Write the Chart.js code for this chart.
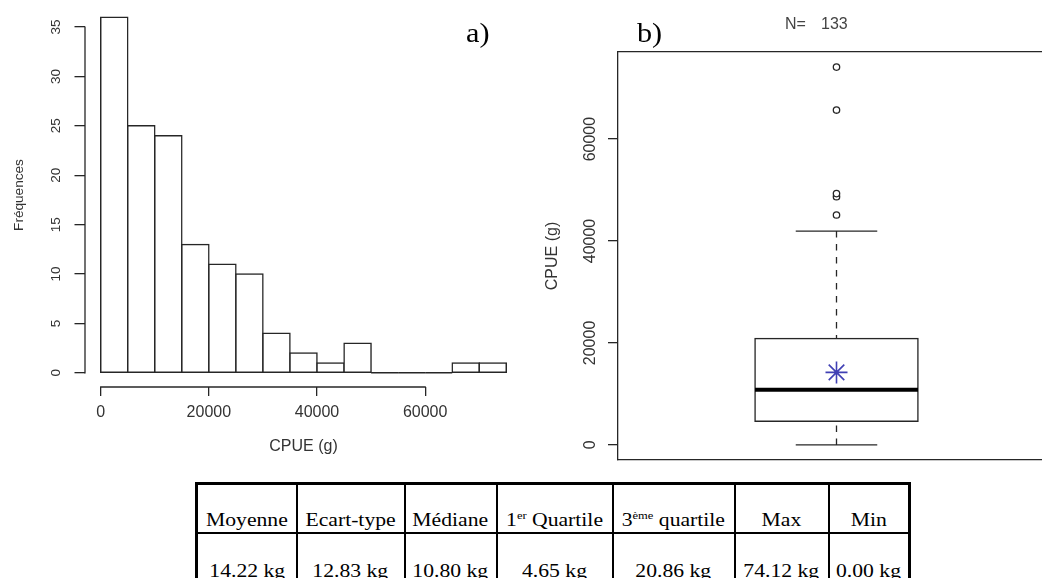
<!DOCTYPE html>
<html lang="fr">
<head>
<meta charset="utf-8">
<title>CPUE</title>
<script src="https://cdn.jsdelivr.net/npm/chart.js@4.4.1/dist/chart.umd.min.js"></script>
<style>
  html, body { margin: 0; padding: 0; background: #fff; }
  #page { position: relative; width: 1042px; height: 578px; overflow: hidden; background: #fff; }
  canvas { position: absolute; top: 0; }
  #histChart { left: 0; }
  #boxChart { left: 540px; }
  .tag { position: absolute; top: 20px; font: 27px/27px "Liberation Serif", "Times New Roman", serif; color: #000;
         transform: scaleX(1.12); transform-origin: left top; }
  .note { position: absolute; top: 15.8px; font: 16px/16px "Liberation Sans", Arial, sans-serif; color: #444; }
  #stats { position: absolute; left: 195px; top: 482px; border-collapse: collapse; table-layout: fixed; width: 713px; }
  #stats td { border: 2px solid #000; padding: 0 0 3px 0; text-align: center; vertical-align: bottom;
              font: 19px/19px "Liberation Serif", "Times New Roman", serif; color: #000; }
  #stats tr:first-child td { border-top-width: 3px; height: 44px; }
  #stats tr:last-child td { height: 46px; }
  #stats td:first-child { border-left-width: 3px; }
  #stats td:last-child { border-right-width: 3px; }
  #stats span { display: inline-block; transform: scaleX(1.14); white-space: nowrap; }
  #stats sup { font-size: 11px; line-height: 0; vertical-align: 7px; }
</style>
</head>
<body>
<div id="page">
  <canvas id="histChart" width="540" height="470"></canvas>
  <canvas id="boxChart" width="520" height="478"></canvas>
  <div class="tag" style="left:466px">a)</div>
  <div class="tag" style="left:637px">b)</div>
  <div class="note" style="left:785px">N=</div>
  <div class="note" id="nValue" style="left:821px"></div>
  <table id="stats">
    <colgroup>
      <col style="width:100px"><col style="width:108px"><col style="width:92px"><col style="width:116px">
      <col style="width:122px"><col style="width:94px"><col style="width:81px">
    </colgroup>
  </table>
</div>
<script>
// histogram of CPUE (g): bin edges and counts
const binEdges = [0, 5000, 10000, 15000, 20000, 25000, 30000, 35000, 40000, 45000, 50000, 55000, 60000, 65000, 70000, 75000];
const binCounts = [36, 25, 24, 13, 11, 10, 4, 2, 1, 3, 0, 0, 0, 1, 1];
const histXTicks = [0, 20000, 40000, 60000];
const histYTicks = [0, 5, 10, 15, 20, 25, 30, 35];

// summary statistics (kg)
const statNames = ['Moyenne', 'Ecart-type', 'Médiane', '1<sup>er</sup> Quartile', '3<sup>ème</sup> quartile', 'Max', 'Min'];
const statKg = [14.22, 12.83, 10.80, 4.65, 20.86, 74.12, 0.00];

// boxplot extras (g)
const boxLabels = ['CPUE'];
const upperWhisker = [41960];
const outliersG = [45100, 48700, 49300, 65700, 74120];
const boxYTicks = [0, 20000, 40000, 60000];
const sampleSize = 133;

const ink = '#262626';
const textCol = '#333';
Chart.defaults.font.family = '"Liberation Sans", Arial, sans-serif';
Chart.defaults.color = textCol;

// R-like axis range: data range widened by 4% on each side
function rRange(lo, hi) {
  const d = (hi - lo) * 0.04;
  return [lo - d, hi + d];
}

// keep the plot area where the layout puts it, whatever the labels need
function noLabelPadding(s) {
  s.paddingTop = 0; s.paddingBottom = 0; s.paddingLeft = 0; s.paddingRight = 0;
}

const [meanKg, sdKg, medianKg, q1Kg, q3Kg, maxKg, minKg] = statKg;
const g = kg => Math.round(kg * 1000);

// axis lines that only run between the first and last tick
const rAxisLines = {
  id: 'rAxisLines',
  afterDraw(chart, args, opts) {
    const ctx = chart.ctx;
    ctx.save();
    ctx.strokeStyle = opts.color;
    ctx.lineWidth = opts.width;
    Object.values(chart.scales).forEach(s => {
      const t = s.ticks;
      if (!t.length) return;
      const a = s.getPixelForValue(t[0].value);
      const b = s.getPixelForValue(t[t.length - 1].value);
      const h = opts.width / 2;
      ctx.beginPath();
      if (s.isHorizontal()) {
        const y = Math.round(s.top);
        ctx.moveTo(a - h, y); ctx.lineTo(b + h, y);
      } else {
        const x = Math.round(s.right);
        ctx.moveTo(x, a + h); ctx.lineTo(x, b - h);
      }
      ctx.stroke();
    });
    ctx.restore();
  }
};

// median, whiskers and caps, drawn right after the box
const boxExtras = {
  id: 'boxExtras',
  afterDatasetDraw(chart, args, opts) {
    if (args.index !== 0) return;
    const bar = args.meta.data[0];
    const y = chart.scales.y;
    const ctx = chart.ctx;
    const cx = bar.x;
    const half = bar.width / 2;
    const seg = (x1, y1, x2, y2) => { ctx.beginPath(); ctx.moveTo(x1, y1); ctx.lineTo(x2, y2); ctx.stroke(); };
    const yHi = y.getPixelForValue(opts.high);
    const yLo = y.getPixelForValue(opts.low);
    ctx.save();
    ctx.strokeStyle = ink;
    ctx.lineWidth = 1.3;
    ctx.setLineDash([6.5, 6.5]);
    seg(cx, yHi, cx, y.getPixelForValue(opts.q3));
    seg(cx, yLo, cx, y.getPixelForValue(opts.q1));
    ctx.setLineDash([]);
    seg(cx - half / 2, yHi, cx + half / 2, yHi);
    seg(cx - half / 2, yLo, cx + half / 2, yLo);
    ctx.strokeStyle = '#000';
    ctx.lineWidth = 4;
    const yMed = y.getPixelForValue(opts.median);
    seg(cx - half, yMed, cx + half, yMed);
    ctx.restore();
  }
};

// ---- a) histogram ----
const histData = binCounts.map((c, i) => ({ x: (binEdges[i] + binEdges[i + 1]) / 2, y: c }));
const histX = rRange(binEdges[0], binEdges[binEdges.length - 1]);
const histY = rRange(0, Math.max(...binCounts));
const isEmptyBin = c => c.raw && c.raw.y === 0;

new Chart(document.getElementById('histChart'), {
  type: 'bar',
  data: {
    datasets: [{
      data: histData,
      // empty bins show up as a flat line on the baseline
      backgroundColor: c => (isEmptyBin(c) ? ink : '#fff'),
      borderColor: ink,
      borderWidth: c => (isEmptyBin(c) ? 0 : 1.5),
      borderSkipped: false,
      inflateAmount: c => (isEmptyBin(c) ? 0 : 0.75),
      minBarLength: 1.5,
      categoryPercentage: 1,
      barPercentage: 1
    }]
  },
  options: {
    responsive: false,
    animation: false,
    events: [],
    layout: { autoPadding: false, padding: { left: 0, right: 17.5, top: 3, bottom: 0 } },
    plugins: {
      legend: { display: false },
      tooltip: { enabled: false },
      rAxisLines: { color: ink, width: 1.3 }
    },
    scales: {
      x: {
        type: 'linear',
        min: histX[0],
        max: histX[1],
        offset: false,
        afterBuildTicks: s => { s.ticks = histXTicks.map(v => ({ value: v })); },
        afterFit: s => { s.height = 83; noLabelPadding(s); },
        grid: { drawOnChartArea: false, tickLength: 9, color: ink, lineWidth: 1.3, offset: false },
        border: { display: false },
        ticks: { font: { size: 16 }, color: textCol, padding: 7, maxRotation: 0, autoSkip: false, callback: v => String(v) },
        title: { display: true, text: 'CPUE (g)', font: { size: 16 }, color: textCol, padding: { top: 0, bottom: 13.4 } }
      },
      y: {
        min: histY[0],
        max: histY[1],
        afterBuildTicks: s => { s.ticks = histYTicks.map(v => ({ value: v })); },
        afterFit: s => { s.width = 84.5; noLabelPadding(s); },
        grid: { drawOnChartArea: false, tickLength: 10, color: ink, lineWidth: 1.3 },
        border: { display: false },
        ticks: { font: { size: 13.5 }, color: textCol, padding: 11, minRotation: 90, maxRotation: 90,
                 crossAlign: 'center', autoSkip: false, callback: v => String(v) },
        title: { display: true, text: 'Fréquences', font: { size: 13.6 }, color: textCol, padding: { top: 10.8, bottom: 0 } }
      }
    }
  },
  plugins: [rAxisLines]
});

// ---- b) boxplot ----
const boxY = rRange(g(minKg), g(maxKg));

new Chart(document.getElementById('boxChart'), {
  type: 'bar',
  data: {
    labels: boxLabels,
    datasets: [
      {
        type: 'bar',
        order: 3,
        data: [[g(q1Kg), g(q3Kg)]],
        backgroundColor: '#fff',
        borderColor: ink,
        borderWidth: 1.5,
        borderSkipped: false,
        inflateAmount: 0.75,
        categoryPercentage: 1,
        barPercentage: 0.373
      },
      {
        type: 'line',
        order: 2,
        data: outliersG.map(v => ({ x: boxLabels[0], y: v })),
        showLine: false,
        pointStyle: 'circle',
        pointRadius: 3.2,
        pointBorderWidth: 1.3,
        pointBorderColor: ink,
        pointBackgroundColor: '#fff'
      },
      {
        type: 'line',
        order: 1,
        data: [{ x: boxLabels[0], y: g(meanKg) }],
        showLine: false,
        pointStyle: 'star',
        pointRadius: 11,
        pointBorderWidth: 1.6,
        pointBorderColor: '#4040b4',
        pointBackgroundColor: '#4040b4'
      }
    ]
  },
  options: {
    responsive: false,
    animation: false,
    events: [],
    layout: { autoPadding: false, padding: { left: 0, right: 5, top: 52, bottom: 0 } },
    plugins: {
      legend: { display: false },
      tooltip: { enabled: false },
      boxExtras: { q1: g(q1Kg), q3: g(q3Kg), median: g(medianKg), low: g(minKg), high: upperWhisker[0] }
    },
    scales: {
      x: {
        type: 'category',
        offset: true,
        afterFit: s => { s.height = 18; noLabelPadding(s); },
        grid: { display: false },
        ticks: { display: false },
        border: { display: true, color: ink, width: 1.3 }
      },
      xTop: {
        type: 'category',
        position: 'top',
        offset: true,
        afterFit: s => { s.height = 0; noLabelPadding(s); },
        grid: { display: false },
        ticks: { display: false },
        border: { display: true, color: ink, width: 1.3 }
      },
      y: {
        min: boxY[0],
        max: boxY[1],
        afterBuildTicks: s => { s.ticks = boxYTicks.map(v => ({ value: v })); },
        afterFit: s => { s.width = 78; noLabelPadding(s); },
        grid: { drawOnChartArea: false, tickLength: 10, color: ink, lineWidth: 1.3 },
        border: { display: true, color: ink, width: 1.3 },
        ticks: { font: { size: 16 }, color: textCol, padding: -5.25, minRotation: 90, maxRotation: 90,
                 crossAlign: 'center', autoSkip: false, callback: v => String(v) },
        title: { display: true, text: 'CPUE (g)', font: { size: 16 }, color: textCol, padding: { top: 3.4, bottom: 0 } }
      }
    }
  },
  plugins: [boxExtras]
});

document.getElementById('nValue').textContent = String(sampleSize);

// ---- summary table ----
const table = document.getElementById('stats');
const headRow = table.insertRow();
statNames.forEach(n => { headRow.insertCell().innerHTML = '<span>' + n + '</span>'; });
const valueRow = table.insertRow();
statKg.forEach(v => { valueRow.insertCell().innerHTML = '<span>' + v.toFixed(2) + ' kg</span>'; });
</script>
</body>
</html>
